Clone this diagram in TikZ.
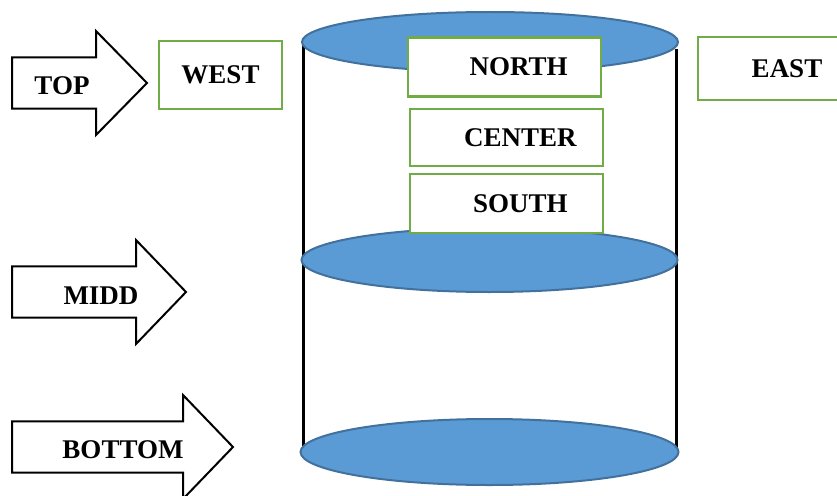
\documentclass[tikz,border=0pt]{standalone}
\usepackage{fontspec}
\setmainfont{Liberation Serif}
\usepackage{tikz}
\usetikzlibrary{positioning}

\definecolor{diskfill}{HTML}{5B9BD5}
\definecolor{diskedge}{HTML}{41719C}
\definecolor{boxgreen}{HTML}{70AD47}

\tikzset{
  lbl/.style={font=\fontsize{27}{31}\selectfont\bfseries, inner sep=0pt},
  greenbox/.style={lbl, draw=boxgreen, line width=2.5pt, fill=white},
  disk/.style={fill=diskfill, draw=diskedge, line width=2pt},
  wall/.style={line width=3pt}
}

\begin{document}
\begin{tikzpicture}[x=1pt, y=-1pt]
  \useasboundingbox (0,0) rectangle (837,495);
  \clip (0,0) rectangle (837,495);

  % block arrows on the left
  \foreach \cy/\hx/\tx in {83/96/147, 292/136/186, 447/183/233}
    \draw[line width=2pt, fill=white, line join=miter]
      (12,\cy-25.7) -- (\hx,\cy-25.7) -- (\hx,\cy-52) -- (\tx,\cy)
      -- (\hx,\cy+52) -- (\hx,\cy+25.7) -- (12,\cy+25.7) -- cycle;
  \node[lbl] (top) at (62,86) {TOP};
  \node[lbl] (midd) at (101,296) {MIDD};
  \node[lbl] (bottom) at (123,450) {BOTTOM};

  % the cylinder
  \draw[wall] (303,42) -- (303,452);
  \draw[wall] (676.5,49) -- (676.5,452);
  \draw[disk] (490,42) ellipse [x radius=188pt, y radius=30pt];
  \draw[disk] (489.5,260) ellipse [x radius=188pt, y radius=32pt];
  \draw[disk] (489.5,452) ellipse [x radius=189pt, y radius=33pt];

  % labelled boxes
  \node[greenbox, minimum width=123pt, minimum height=68pt] (west) at (220.5,75) {WEST};
  \node[greenbox, minimum width=193pt, minimum height=59pt] (north) at (504.7,67) {\hspace*{28pt}NORTH};
  \node[greenbox, minimum width=193pt, minimum height=57pt] (center) at (506.3,137.3) {\hspace*{28pt}CENTER};
  \node[greenbox, minimum width=193pt, minimum height=59pt] (south) at (506.3,203.5) {\hspace*{28pt}SOUTH};
  \node[greenbox, minimum width=178pt, minimum height=63pt] (east) at (787,68.7) {EAST};
\end{tikzpicture}
\end{document}
